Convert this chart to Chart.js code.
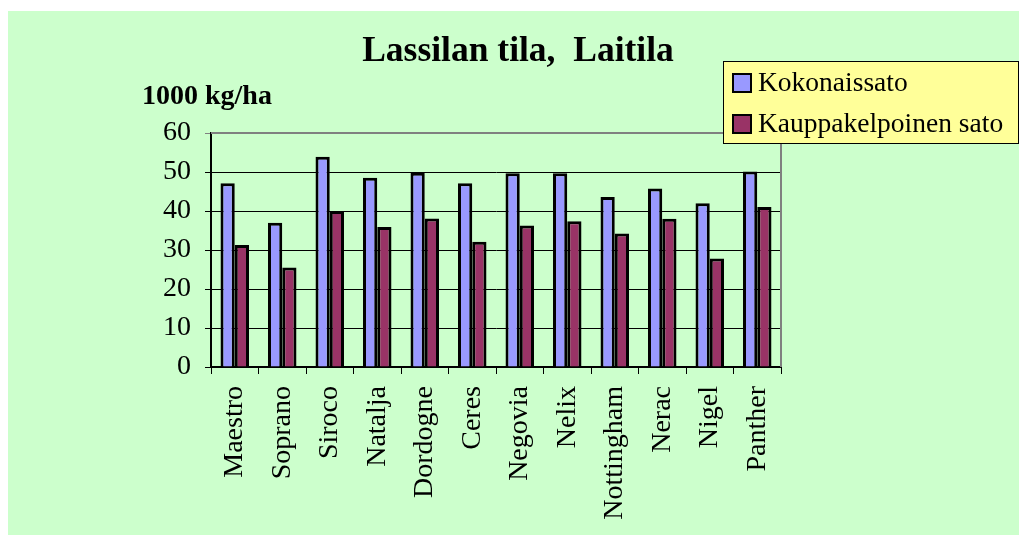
<!DOCTYPE html>
<html>
<head>
<meta charset="utf-8">
<script src="https://cdn.jsdelivr.net/npm/chart.js@4"></script>
<style>
    body { margin: 0; background: #fff; }
    #wrap {
        position: absolute;
        left: 8px;
        top: 11px;
        width: 1011px;
        height: 524px;
        background: #CCFFCC;
    }
</style>
</head>
<body>
<div id="wrap"><canvas id="satoChart"></canvas></div>
<script>
const lajikkeet = ["Maestro", "Soprano", "Siroco", "Natalja", "Dordogne", "Ceres",
    "Negovia", "Nelix", "Nottingham", "Nerac", "Nigel", "Panther"];
const kokonaissato = [47.1, 37.0, 53.9, 48.5, 49.8, 47.1, 49.7, 49.7, 43.6, 45.8, 42.0, 50.1];
const kauppasato = [31.3, 25.5, 40.0, 35.9, 38.1, 32.1, 36.3, 37.4, 34.2, 38.0, 27.8, 41.0];
const yTicks = [0, 10, 20, 30, 40, 50, 60];

const chartTitle = "Lassilan tila,  Laitila";
const yUnit = "1000 kg/ha";

Chart.defaults.font.family = "'Liberation Serif', 'Times New Roman', serif";
Chart.defaults.color = "#000";

// title, unit label, plot border and the yellow legend box
const extras = {
    id: "extras",
    beforeDatasetsDraw(chart) {
        const { ctx, chartArea: a } = chart;
        ctx.save();
        ctx.strokeStyle = "#808080";
        ctx.lineWidth = 2;
        ctx.beginPath();
        ctx.moveTo(a.left, a.top);
        ctx.lineTo(a.right, a.top);
        ctx.lineTo(a.right, a.bottom);
        ctx.stroke();
        ctx.restore();
    },
    afterDraw(chart) {
        const ctx = chart.ctx;
        ctx.save();
        ctx.fillStyle = "#000";
        ctx.textBaseline = "middle";
        ctx.textAlign = "center";
        ctx.font = "bold 35.5px 'Liberation Serif'";
        ctx.fillText(chartTitle, 510, 41);
        ctx.textAlign = "left";
        ctx.font = "bold 28px 'Liberation Serif'";
        ctx.fillText(yUnit, 134, 86);

        // legend
        ctx.fillStyle = "#FFFF99";
        ctx.fillRect(715, 50, 295, 82);
        ctx.strokeStyle = "#000";
        ctx.lineWidth = 1;
        ctx.strokeRect(715.5, 50.5, 295, 82);
        ctx.font = "27.5px 'Liberation Serif'";
        chart.data.datasets.forEach((ds, i) => {
            const y = 63 + i * 41;
            ctx.fillStyle = ds.backgroundColor;
            ctx.fillRect(725, y, 18, 18);
            ctx.lineWidth = 2;
            ctx.strokeRect(725, y, 18, 18);
            ctx.fillStyle = "#000";
            ctx.fillText(ds.label, 750, y + 10);
        });
        ctx.restore();
    }
};

new Chart(document.getElementById("satoChart").getContext("2d"), {
    type: "bar",
    data: {
        labels: lajikkeet,
        datasets: [{
            label: "Kokonaissato",
            data: kokonaissato,
            backgroundColor: "#9999FF",
            borderColor: "#000",
            borderWidth: 3,
            categoryPercentage: 0.6,
            barPercentage: 1
        }, {
            label: "Kauppakelpoinen sato",
            data: kauppasato,
            backgroundColor: "#993366",
            borderColor: "#000",
            borderWidth: 3,
            categoryPercentage: 0.6,
            barPercentage: 1
        }]
    },
    options: {
        responsive: true,
        maintainAspectRatio: false,
        animation: false,
        layout: {
            padding: { top: 122, right: 238, bottom: 0, left: 0 }
        },
        plugins: {
            legend: { display: false },
            tooltip: { enabled: false }
        },
        scales: {
            x: {
                grid: {
                    offset: true,
                    drawOnChartArea: false,
                    color: "#000",
                    tickLength: 7
                },
                border: { color: "#000", width: 2 },
                ticks: {
                    font: { size: 28 },
                    minRotation: 90,
                    maxRotation: 90,
                    padding: 12,
                    autoSkip: false
                },
                afterFit(scale) {
                    scale.height = 168;
                }
            },
            y: {
                min: 0,
                max: 60,
                afterBuildTicks(scale) {
                    scale.ticks = yTicks.map(v => ({ value: v }));
                },
                grid: {
                    color: ctx => ctx.tick && ctx.tick.value === 60 ? "#808080" : "#000",
                    tickLength: 6
                },
                border: { color: "#000", width: 2 },
                ticks: {
                    font: { size: 28 },
                    padding: 14
                },
                afterFit(scale) {
                    scale.width = 203;
                }
            }
        }
    },
    plugins: [extras]
});
</script>
</body>
</html>
